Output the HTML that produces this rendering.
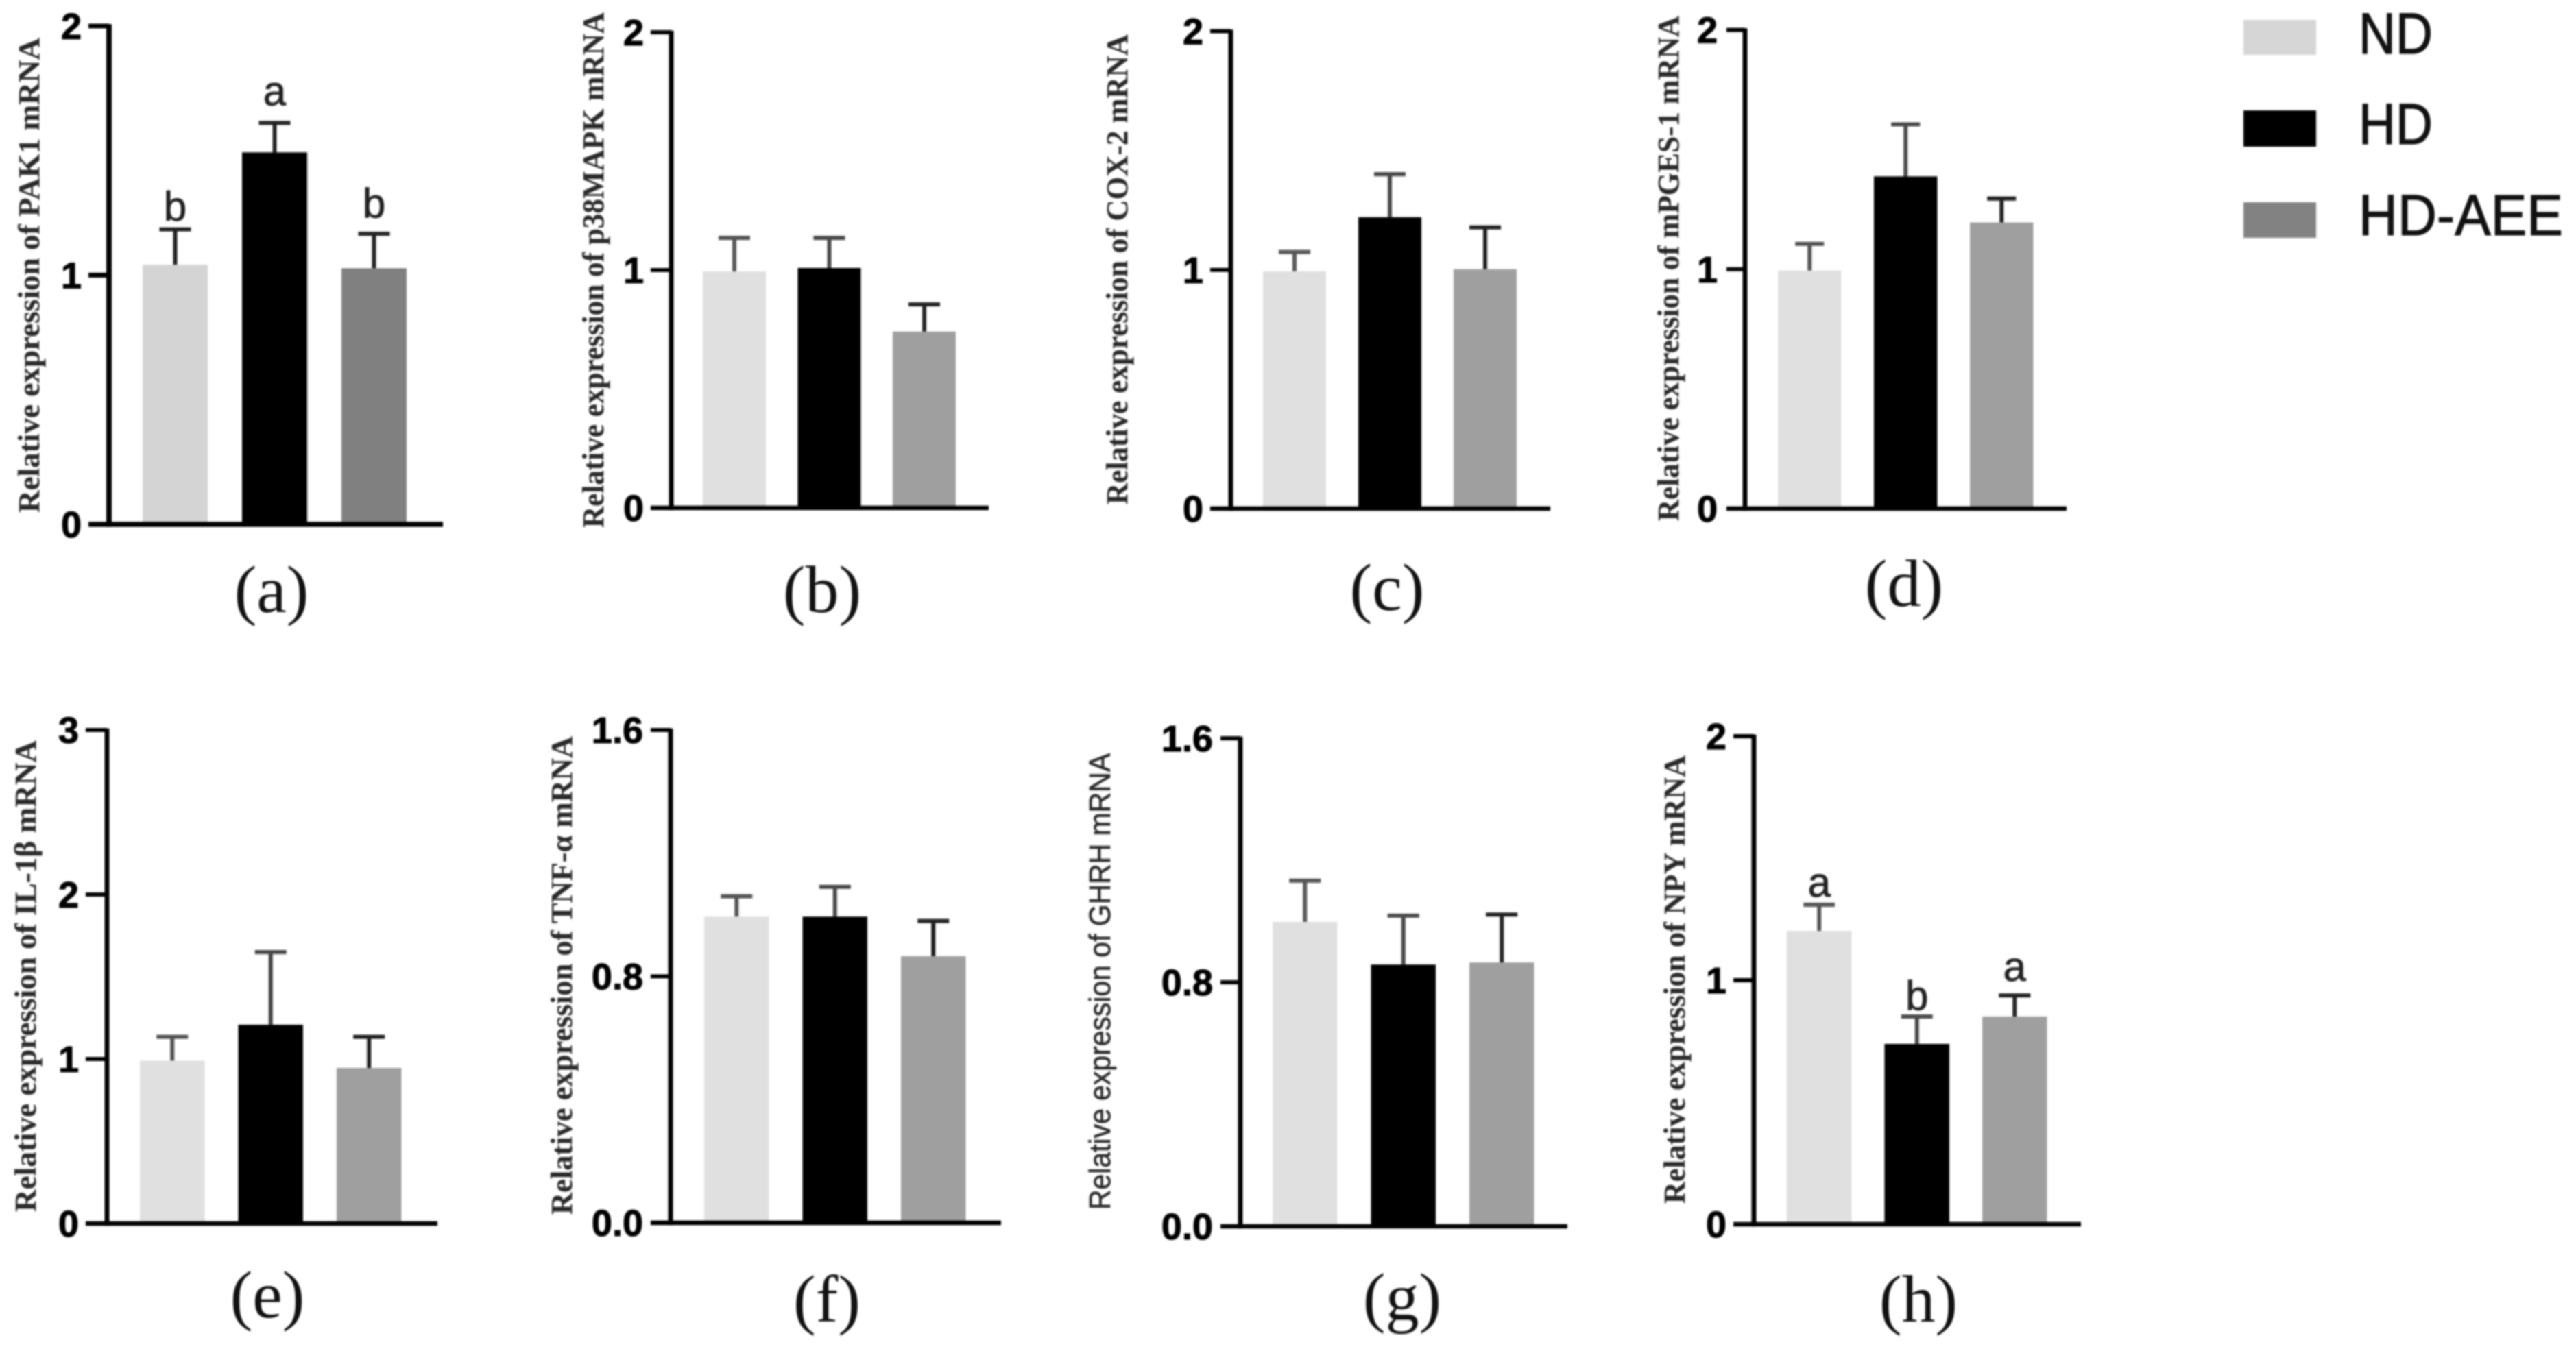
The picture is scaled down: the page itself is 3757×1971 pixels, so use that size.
<!DOCTYPE html>
<html lang="en">
<head>
<meta charset="utf-8">
<title>Relative mRNA expression panels</title>
<style>
  html, body { margin: 0; padding: 0; background: #ffffff; }
  body { width: 3757px; height: 1971px; overflow: hidden; }
  #figure { display: block; filter: blur(1.3px); }
</style>
</head>
<body>
<svg id="figure" xmlns="http://www.w3.org/2000/svg" width="3757" height="1971" viewBox="0 0 3757 1971">
  <rect x="0" y="0" width="3757" height="1971" fill="#ffffff"/>
  <g id="panels"></g>
  <g id="legend">
    <g>
      <rect x="3272" y="29" width="106" height="51" fill="#d6d6d6"/>
      <text x="3440" y="78" font-family="'Liberation Sans', sans-serif" font-size="84" fill="#111" stroke="#111" stroke-width="1.2" textLength="108" lengthAdjust="spacingAndGlyphs">ND</text>
    </g>
    <g>
      <rect x="3272" y="161" width="106" height="53" fill="#000000"/>
      <text x="3440" y="210" font-family="'Liberation Sans', sans-serif" font-size="84" fill="#111" stroke="#111" stroke-width="1.2" textLength="108" lengthAdjust="spacingAndGlyphs">HD</text>
    </g>
    <g>
      <rect x="3272" y="295" width="106" height="52" fill="#828282"/>
      <text x="3440" y="343" font-family="'Liberation Sans', sans-serif" font-size="84" fill="#111" stroke="#111" stroke-width="1.2" textLength="298" lengthAdjust="spacingAndGlyphs">HD-AEE</text>
    </g>
  </g>
</svg>
<script>
// ---- Chart data ----
const categories = ['ND', 'HD', 'HD-AEE'];

const panelA_values = [1.042, 1.493, 1.028];
const panelA_upper  = [1.184, 1.611, 1.166];
const panelA_ticks  = ['0', '1', '2'];
const panelA_letters = ['b', 'a', 'b'];

const panelB_values = [0.994, 1.009, 0.741];
const panelB_upper  = [1.135, 1.135, 0.856];
const panelB_ticks  = ['0', '1', '2'];

const panelC_values = [0.994, 1.221, 1.003];
const panelC_upper  = [1.075, 1.401, 1.178];
const panelC_ticks  = ['0', '1', '2'];

const panelD_values = [0.994, 1.388, 1.195];
const panelD_upper  = [1.106, 1.605, 1.295];
const panelD_ticks  = ['0', '1', '2'];

const panelE_values = [0.99, 1.208, 0.946];
const panelE_upper  = [1.135, 1.65, 1.135];
const panelE_ticks  = ['0', '1', '2', '3'];

const panelF_values = [0.994, 0.994, 0.866];
const panelF_upper  = [1.06, 1.091, 0.98];
const panelF_ticks  = ['0.0', '0.8', '1.6'];

const panelG_values = [0.998, 0.858, 0.865];
const panelG_upper  = [1.133, 1.018, 1.022];
const panelG_ticks  = ['0.0', '0.8', '1.6'];

const panelH_values = [1.202, 0.739, 0.851];
const panelH_upper  = [1.309, 0.851, 0.938];
const panelH_ticks  = ['0', '1', '2'];
const panelH_letters = ['a', 'b', 'a'];

// ---- Layout of each panel (geometry and styling only) ----
const SERIF = "'Liberation Serif', serif";
const SANS = "'Liberation Sans', sans-serif";
const LIGHT = ['#e0e0e0', '#000000', '#9f9f9f'];
const PANEL_A_FILL = ['#d4d4d4', '#000000', '#808080'];
const ERR = ['#555555', '#4a4a4a', '#222222'];

const panels = [
  { id: 'a', values: panelA_values, upper: panelA_upper, ticks: panelA_ticks, letters: panelA_letters, letterGap: [13, 26, 24],
    title: 'Relative expression of PAK1 mRNA', titleFont: SERIF, titleWeight: 'bold', titleX: 57, titleY: 401.5, titleLen: 693,
    axisX: 159, top: 38, bottom: 765, right: 646, tickLeft: 129, tickLabelX: 119,
    barStart: 208, barStep: 145, barWidth: 95, capWidth: 46, fills: PANEL_A_FILL, errs: ['#222222', '#222222', '#222222'], stroke: 7.5,
    caption: '(a)', captionX: 396, captionY: 893 },
  { id: 'b', values: panelB_values, upper: panelB_upper, ticks: panelB_ticks,
    title: 'Relative expression of p38MAPK mRNA', titleFont: SERIF, titleWeight: 'bold', titleX: 880, titleY: 394, titleLen: 752,
    axisX: 979, top: 47, bottom: 741, right: 1442, tickLeft: 949, tickLabelX: 939,
    barStart: 1025, barStep: 138.5, barWidth: 92, capWidth: 46, fills: LIGHT, errs: ERR, stroke: 6.5,
    caption: '(b)', captionX: 1199, captionY: 893 },
  { id: 'c', values: panelC_values, upper: panelC_upper, ticks: panelC_ticks,
    title: 'Relative expression of COX-2 mRNA', titleFont: SERIF, titleWeight: 'bold', titleX: 1644, titleY: 393, titleLen: 686,
    axisX: 1795, top: 45.5, bottom: 742, right: 2261, tickLeft: 1765, tickLabelX: 1755,
    barStart: 1842, barStep: 139, barWidth: 92, capWidth: 46, fills: LIGHT, errs: ERR, stroke: 6.5,
    caption: '(c)', captionX: 2023, captionY: 890 },
  { id: 'd', values: panelD_values, upper: panelD_upper, ticks: panelD_ticks,
    title: 'Relative expression of mPGES-1 mRNA', titleFont: SERIF, titleWeight: 'bold', titleX: 2448, titleY: 391.5, titleLen: 737,
    axisX: 2545, top: 43.6, bottom: 742, right: 3014, tickLeft: 2518, tickLabelX: 2505,
    barStart: 2593, barStep: 140, barWidth: 92.5, capWidth: 42, fills: LIGHT, errs: ERR, stroke: 6.5,
    caption: '(d)', captionX: 2777, captionY: 884 },
  { id: 'e', values: panelE_values, upper: panelE_upper, ticks: panelE_ticks,
    title: 'Relative expression of IL-1\u03B2 mRNA', titleFont: SERIF, titleWeight: 'bold', titleX: 52, titleY: 1424, titleLen: 688,
    axisX: 156, top: 1065, bottom: 1785, right: 638, tickLeft: 125, tickLabelX: 115,
    barStart: 204, barStep: 143.5, barWidth: 94.5, capWidth: 46, fills: LIGHT, errs: ERR, stroke: 6.5,
    caption: '(e)', captionX: 390, captionY: 1922 },
  { id: 'f', values: panelF_values, upper: panelF_upper, ticks: panelF_ticks,
    title: 'Relative expression of TNF-\u03B1 mRNA', titleFont: SERIF, titleWeight: 'bold', titleX: 834, titleY: 1423, titleLen: 698,
    axisX: 978, top: 1065, bottom: 1784, right: 1460, tickLeft: 949, tickLabelX: 938,
    barStart: 1027, barStep: 143.5, barWidth: 94.5, capWidth: 46, fills: LIGHT, errs: ERR, stroke: 6.5,
    caption: '(f)', captionX: 1206, captionY: 1928 },
  { id: 'g', values: panelG_values, upper: panelG_upper, ticks: panelG_ticks,
    title: 'Relative expression of GHRH mRNA', titleFont: SANS, titleWeight: 'normal', titleX: 1619, titleY: 1432, titleLen: 666,
    axisX: 1809, top: 1077, bottom: 1789, right: 2286, tickLeft: 1780, tickLabelX: 1769,
    barStart: 1856, barStep: 143.5, barWidth: 94.5, capWidth: 46, fills: LIGHT, errs: ERR, stroke: 6.5,
    caption: '(g)', captionX: 2045, captionY: 1925 },
  { id: 'h', values: panelH_values, upper: panelH_upper, ticks: panelH_ticks, letters: panelH_letters, letterGap: [12, 10, 21],
    title: 'Relative expression of NPY mRNA', titleFont: SERIF, titleWeight: 'bold', titleX: 2457, titleY: 1429, titleLen: 654,
    axisX: 2558, top: 1074, bottom: 1786, right: 3035, tickLeft: 2528, tickLabelX: 2518,
    barStart: 2606, barStep: 142.5, barWidth: 94.5, capWidth: 46, fills: LIGHT, errs: ERR, stroke: 6.5,
    caption: '(h)', captionX: 2798, captionY: 1928 }
];

const NS = 'http://www.w3.org/2000/svg';
const root = document.getElementById('panels');

function make(tag, attrs, parent) {
  const node = document.createElementNS(NS, tag);
  for (const key in attrs) node.setAttribute(key, attrs[key]);
  parent.appendChild(node);
  return node;
}

function drawPanel(p) {
  const g = make('g', {}, root);
  
  

  const domainMax = parseFloat(p.ticks[p.ticks.length - 1]);
  const yScale = function (v) { return p.bottom - (v / domainMax) * (p.bottom - p.top); };
  const xScale = function (i) { return p.barStart + i * p.barStep; };

  // bars and error bars
  p.values.forEach(function (value, i) {
    const left = xScale(i);
    const centre = left + p.barWidth / 2;
    const key = categories[i].toLowerCase();

    const stem = make('line', { x1: centre, x2: centre, y1: yScale(p.upper[i]), y2: yScale(value), stroke: p.errs[i], 'stroke-width': 6 }, g);
    
    

    const cap = make('line', { x1: centre - p.capWidth / 2, x2: centre + p.capWidth / 2, y1: yScale(p.upper[i]), y2: yScale(p.upper[i]), stroke: p.errs[i], 'stroke-width': 6 }, g);
    
    

    const bar = make('rect', { x: left, y: yScale(value), width: p.barWidth, height: yScale(0) - yScale(value), fill: p.fills[i] }, g);
    
    

    if (p.letters) {
      const letter = make('text', { x: centre, y: yScale(p.upper[i]) - p.letterGap[i], 'text-anchor': 'middle', 'font-family': SANS, 'font-size': 60, fill: '#222222', stroke: '#222222', 'stroke-width': 0.8 }, g);
      letter.textContent = p.letters[i];
      
      
    }
  });

  // axes
  const yAxis = make('line', { x1: p.axisX, x2: p.axisX, y1: p.top - p.stroke / 2 + 1, y2: p.bottom + p.stroke / 2, stroke: '#000000', 'stroke-width': p.stroke + 0.5 }, g);
  
  

  const xAxis = make('line', { x1: p.tickLeft, x2: p.right, y1: p.bottom, y2: p.bottom, stroke: '#000000', 'stroke-width': p.stroke }, g);
  
  

  // ticks and tick labels
  p.ticks.forEach(function (label) {
    const y = yScale(parseFloat(label));

    const tick = make('line', { x1: p.tickLeft, x2: p.axisX, y1: y, y2: y, stroke: '#000000', 'stroke-width': p.stroke - 0.5 }, g);
    
    

    const text = make('text', { x: p.tickLabelX, y: y + 19, 'text-anchor': 'end', 'font-family': SANS, 'font-weight': 'bold', 'font-size': 54, fill: '#000000', stroke: '#000000', 'stroke-width': 1 }, g);
    text.textContent = label;
    
    
  });

  // y axis title
  const title = make('text', {
    x: p.titleX, y: p.titleY, transform: 'rotate(-90 ' + p.titleX + ' ' + p.titleY + ')',
    'text-anchor': 'middle', 'font-family': p.titleFont, 'font-weight': p.titleWeight, 'font-size': 44,
    fill: '#2a2a2a', stroke: '#2a2a2a', 'stroke-width': p.titleWeight === 'normal' ? 0.7 : 0.2, textLength: p.titleLen, lengthAdjust: 'spacingAndGlyphs'
  }, g);
  title.textContent = p.title;
  
  

  // panel caption
  const caption = make('text', { x: p.captionX, y: p.captionY, 'text-anchor': 'middle', 'font-family': SERIF, 'font-size': 98, fill: '#111111' }, g);
  caption.textContent = p.caption;
  
  
}

panels.forEach(drawPanel);
</script>
</body>
</html>
